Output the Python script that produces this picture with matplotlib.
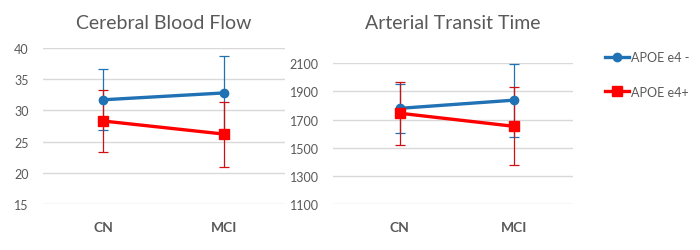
import matplotlib.pyplot as plt
from matplotlib.lines import Line2D

# Данные
categories = ['CN', 'MCI']
cbf_neg = [31.7, 32.8]
cbf_neg_err = [4.85, 5.9]
cbf_pos = [28.3, 26.2]
cbf_pos_err = [5.0, 5.2]
att_neg = [1780, 1838]
att_neg_err = [176, 260]
att_pos = [1745, 1652]
att_pos_err = [224, 276]
series_names = ['APOE e4 -', 'APOE e4+']

blue = '#2171b5'
red = '#ff0000'
grey = '#595959'
plt.rcParams['font.family'] = ['Lato', 'DejaVu Sans']

fig = plt.figure(figsize=(7, 2.51), dpi=100)
ax1 = fig.add_axes([0.061, 0.183, 0.346, 0.622])
ax2 = fig.add_axes([0.475, 0.183, 0.344, 0.561])


def draw(ax, neg, neg_err, pos, pos_err, title, ylim, yticks, xlim):
    x = range(len(categories))
    ax.errorbar(x, neg, yerr=neg_err, color=blue, lw=2.4, marker='o', ms=6,
                ecolor=blue, elinewidth=0.9, capsize=3.5, capthick=0.9, zorder=3)
    ax.errorbar(x, pos, yerr=pos_err, color=red, lw=2.4, marker='s', ms=6.5,
                ecolor='#d01010', elinewidth=0.9, capsize=3.5, capthick=0.9, zorder=3)
    ax.set_ylim(*ylim)
    ax.set_yticks(yticks)
    ax.set_xlim(*xlim)
    ax.set_xticks(list(x))
    ax.set_xticklabels(categories, fontweight='bold', fontsize=10, color=grey)
    ax.tick_params(axis='x', length=0, pad=12)
    ax.tick_params(axis='y', length=0, labelsize=9, colors=grey, pad=10)
    ax.grid(axis='y', color='#d9d9d9', lw=1)
    ax.set_axisbelow(True)
    for s in ax.spines.values():
        s.set_visible(False)
    pos_ax = ax.get_position()
    fig.text(0.5 * (pos_ax.x0 + pos_ax.x1), 0.908,
             title, ha='center', va='center', fontsize=14, color=grey)


draw(ax1, cbf_neg, cbf_neg_err, cbf_pos, cbf_pos_err, 'Cerebral Blood Flow',
     (15, 40), range(15, 41, 5), (-0.5, 1.5))
draw(ax2, att_neg, att_neg_err, att_pos, att_pos_err, 'Arterial Transit Time',
     (1100, 2100), range(1100, 2101, 200), (-0.59, 1.518))

handles = [Line2D([], [], color=blue, lw=2.4, marker='o', ms=6),
           Line2D([], [], color=red, lw=2.4, marker='s', ms=6.5)]
ax2.legend(handles, series_names, loc='upper left', bbox_to_anchor=(1.085, 1.165),
           frameon=False, fontsize=9, handlelength=1.9, handletextpad=0.15,
           labelspacing=1.8, labelcolor=grey)

fig.savefig('out.png', dpi=100)
